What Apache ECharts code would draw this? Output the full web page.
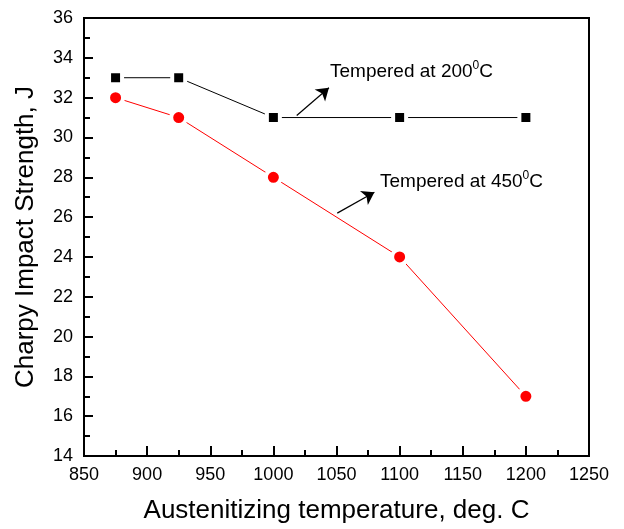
<!DOCTYPE html>
<html>
<head>
<meta charset="utf-8">
<script src="https://cdn.jsdelivr.net/npm/echarts@6/dist/echarts.min.js"></script>
<style>
  html, body { margin: 0; padding: 0; background: #fff; }
  #main { width: 624px; height: 529px; }
</style>
</head>
<body>
<div id="main"></div>
<script>
// austenitizing temperature (deg C)
var temps = [875, 925, 1000, 1100, 1200];
// Charpy impact strength, J
var tempered200 = [33, 33, 31, 31, 31];
var tempered450 = [32, 31, 28, 24, 17];

var fontName = "'Liberation Sans', Arial, sans-serif";

function pairs(xs, ys) {
    return xs.map(function (x, i) { return [x, ys[i]]; });
}

var myChart = echarts.init(document.getElementById('main'));

var arrowStyle = { color: '#000', width: 1.2, type: 'solid' };

myChart.setOption({
    animation: false,
    backgroundColor: '#fff',
    grid: {
        left: 84, right: 35, top: 18, bottom: 72,
        show: true, borderColor: '#000', borderWidth: 2
    },
    xAxis: {
        type: 'value',
        min: 850, max: 1250, interval: 50,
        name: 'Austenitizing temperature, deg. C',
        nameLocation: 'middle',
        nameGap: 42,
        nameTextStyle: { fontFamily: fontName, fontSize: 26, color: '#000' },
        axisLine: { lineStyle: { color: '#000', width: 2 } },
        axisTick: { inside: true, length: 10, lineStyle: { color: '#000', width: 2 } },
        minorTick: { show: true, splitNumber: 2, length: 6, lineStyle: { color: '#000', width: 2 } },
        axisLabel: {
            fontFamily: fontName, fontSize: 18, color: '#000', margin: 10,
            formatter: function (v) { return String(v); }
        },
        splitLine: { show: false }
    },
    yAxis: {
        type: 'value',
        min: 14, max: 36, interval: 2,
        name: 'Charpy Impact Strength, J',
        nameLocation: 'middle',
        nameGap: 45,
        nameTextStyle: { fontFamily: fontName, fontSize: 26, color: '#000' },
        axisLine: { lineStyle: { color: '#000', width: 2 } },
        axisTick: { inside: true, length: 9, lineStyle: { color: '#000', width: 2 } },
        minorTick: { show: true, splitNumber: 2, length: 6, lineStyle: { color: '#000', width: 2 } },
        axisLabel: { fontFamily: fontName, fontSize: 18, color: '#000', margin: 11 },
        splitLine: { show: false }
    },
    series: [
        {
            name: 'Tempered at 200C',
            type: 'line',
            data: pairs(temps, tempered200),
            symbol: 'rect',
            symbolSize: 13,
            lineStyle: { color: '#000', width: 1 },
            itemStyle: { color: '#000', borderColor: '#fff', borderWidth: 4 },
            markLine: {
                silent: true,
                symbol: ['none', 'arrow'],
                symbolSize: 12,
                label: { show: false },
                lineStyle: arrowStyle,
                data: [[{ coord: [1018.5, 31.1] }, { coord: [1044, 32.5] }]]
            },
            z: 3
        },
        {
            name: 'Tempered at 450C',
            type: 'line',
            data: pairs(temps, tempered450),
            symbol: 'circle',
            symbolSize: 15,
            lineStyle: { color: '#ff0000', width: 1 },
            itemStyle: { color: '#ff0000', borderColor: '#fff', borderWidth: 4 },
            markLine: {
                silent: true,
                symbol: ['none', 'arrow'],
                symbolSize: 12,
                label: { show: false },
                lineStyle: arrowStyle,
                data: [[{ coord: [1050.6, 26.2] }, { coord: [1080, 27.25] }]]
            },
            z: 3
        }
    ],
    graphic: [
        {
            type: 'text', left: 330, top: 60,
            style: {
                text: '{a|Tempered at 200}{s|0}{a|C}',
                rich: {
                    a: { fontFamily: fontName, fontSize: 19, fill: '#000', lineHeight: 24 },
                    s: { fontFamily: fontName, fontSize: 12, fill: '#000', verticalAlign: 'top', lineHeight: 24 }
                }
            }
        },
        {
            type: 'text', left: 380, top: 170,
            style: {
                text: '{a|Tempered at 450}{s|0}{a|C}',
                rich: {
                    a: { fontFamily: fontName, fontSize: 19, fill: '#000', lineHeight: 24 },
                    s: { fontFamily: fontName, fontSize: 12, fill: '#000', verticalAlign: 'top', lineHeight: 24 }
                }
            }
        }
    ]
});
</script>
</body>
</html>
